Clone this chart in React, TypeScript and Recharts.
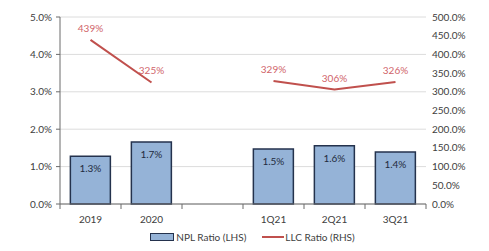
import React from 'react';
import {
    ComposedChart,
    Bar,
    Line,
    XAxis,
    YAxis,
    CartesianGrid,
    Legend,
    LabelList
} from 'recharts';

const categories = ['2019', '2020', '', '1Q21', '2Q21', '3Q21'];
const nplRatio = [1.28, 1.66, null, 1.47, 1.56, 1.39];
const llcRatio = [439, 325, null, 329, 306, 326];
const leftTicks = [0, 1, 2, 3, 4, 5];
const rightTicks = [0, 50, 100, 150, 200, 250, 300, 350, 400, 450, 500];

const FONT = 'Lato, "Open Sans", sans-serif';
const BAR_FILL = '#95b3d7';
const BAR_STROKE = '#24324d';
const LINE_COLOR = '#c0504d';
const TEXT = '#404040';
const AXIS = '#6b6b6b';

const data = categories.map((name, i) => ({
    name,
    npl: nplRatio[i],
    llc: llcRatio[i]
}));

// band width used to put small tick marks on category boundaries
const BAND = 61;

const CategoryTick = (props: any) => {
    const { x, y, payload, index } = props;
    const last = index === categories.length - 1;
    return (
        <g>
            <line x1={x - BAND / 2} y1={y - 8} x2={x - BAND / 2} y2={y - 3} stroke={AXIS} />
            {last && <line x1={x + BAND / 2} y1={y - 8} x2={x + BAND / 2} y2={y - 3} stroke={AXIS} />}
            <text x={x} y={y + 11} textAnchor="middle" fill={TEXT} fontSize={10} fontFamily={FONT}>
                {payload.value}
            </text>
        </g>
    );
};

const LegendContent = () => (
    <div style={{ display: 'flex', justifyContent: 'center', alignItems: 'center', paddingLeft: 16, fontFamily: FONT, fontSize: 10, color: TEXT }}>
        <svg width={24} height={8} style={{ marginRight: 2 }}>
            <rect x={0.5} y={0.5} width={23} height={7} fill={BAR_FILL} stroke={BAR_STROKE} />
        </svg>
        <span style={{ marginRight: 16 }}>NPL Ratio (LHS)</span>
        <svg width={22} height={8} style={{ marginRight: 1 }}>
            <line x1={0} y1={4} x2={22} y2={4} stroke={LINE_COLOR} strokeWidth={2} />
        </svg>
        <span>LLC Ratio (RHS)</span>
    </div>
);

const App = () => {
    return (
        <div style={{ position: 'absolute', left: 0, top: 0, width: 489, height: 251, background: '#fff' }}>
            <ComposedChart
                width={489}
                height={251}
                data={data}
                margin={{ top: 17, right: 0, left: 0, bottom: 0 }}
                barCategoryGap="17%"
            >
                <CartesianGrid stroke="#dcdcdc" vertical={false} yAxisId="left" />
                <XAxis
                    dataKey="name"
                    height={27}
                    axisLine={{ stroke: AXIS }}
                    tickLine={false}
                    tick={<CategoryTick />}
                    interval={0}
                />
                <YAxis
                    yAxisId="left"
                    width={60}
                    domain={[0, 5]}
                    ticks={leftTicks}
                    tickFormatter={(v: number) => `${v.toFixed(1)}%`}
                    axisLine={{ stroke: AXIS }}
                    tickLine={{ stroke: AXIS }}
                    tickSize={4}
                    tickMargin={4}
                    tick={{ fill: TEXT, fontSize: 10, fontFamily: FONT }}
                />
                <YAxis
                    yAxisId="right"
                    orientation="right"
                    width={63}
                    domain={[0, 500]}
                    ticks={rightTicks}
                    tickFormatter={(v: number) => `${v.toFixed(1)}%`}
                    axisLine={false}
                    tickLine={false}
                    tickSize={4}
                    tickMargin={2}
                    tick={{ fill: TEXT, fontSize: 10, fontFamily: FONT, textAnchor: 'start' }}
                />
                <Legend verticalAlign="bottom" height={20} content={<LegendContent />} />
                <Bar
                    yAxisId="left"
                    dataKey="npl"
                    fill={BAR_FILL}
                    stroke={BAR_STROKE}
                    strokeWidth={1.5}
                    isAnimationActive={false}
                >
                    <LabelList
                        dataKey="npl"
                        position="insideTop"
                        offset={9}
                        fill="#1f2a3d"
                        fontSize={10}
                        fontFamily={FONT}
                        formatter={(v: any) => (v == null ? '' : `${Number(v).toFixed(1)}%`)}
                    />
                </Bar>
                <Line
                    yAxisId="right"
                    dataKey="llc"
                    stroke={LINE_COLOR}
                    strokeWidth={2}
                    dot={false}
                    activeDot={false}
                    connectNulls={false}
                    isAnimationActive={false}
                >
                    <LabelList
                        dataKey="llc"
                        position="top"
                        offset={8}
                        fill="#d0646a"
                        fontSize={10}
                        fontFamily={FONT}
                        formatter={(v: any) => (v == null ? '' : `${v}%`)}
                    />
                </Line>
            </ComposedChart>
        </div>
    );
};

export default App;
